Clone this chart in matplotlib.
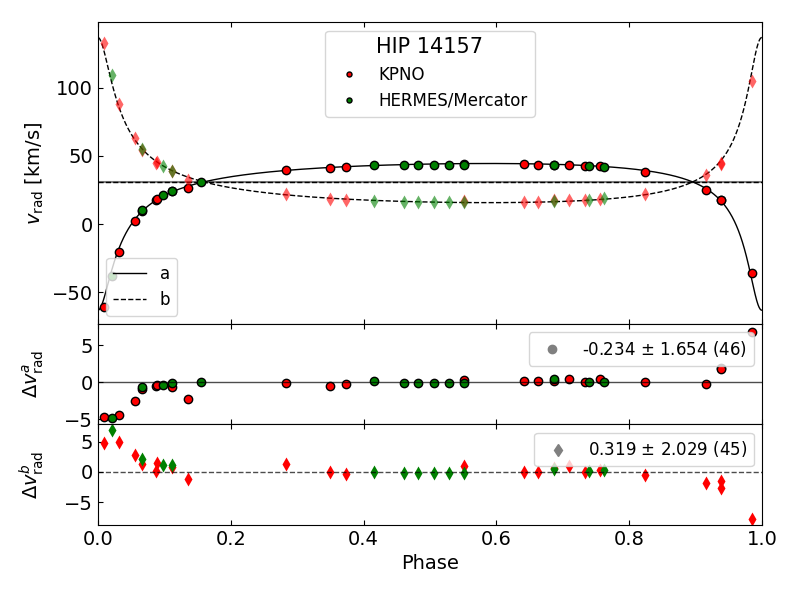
import numpy as np
import matplotlib
matplotlib.use('Agg')
import matplotlib.pyplot as plt

# orbital solution
gamma = 31.0
K1 = 53.75
K2 = 60.5
ecc = 0.7546
omega = 173.0   # deg, component a
T0 = 0.998      # phase of periastron

# observations: phase, instrument (K = KPNO, H = HERMES/Mercator)
phase = [0.009, 0.0206, 0.032, 0.055, 0.067, 0.067, 0.087, 0.089, 0.098, 0.112,
         0.112, 0.1355, 0.1546, 0.2836, 0.350, 0.373, 0.416, 0.461, 0.4825, 0.506,
         0.528, 0.551, 0.551, 0.642, 0.663, 0.687, 0.687, 0.710, 0.734, 0.739,
         0.756, 0.762, 0.824, 0.9157, 0.938, 0.938, 0.9845]
inst = ['K', 'H', 'K', 'K', 'H', 'K', 'K', 'K', 'H', 'K',
        'H', 'K', 'H', 'K', 'K', 'K', 'H', 'H', 'H', 'H',
        'H', 'K', 'H', 'K', 'K', 'K', 'H', 'K', 'K', 'H',
        'K', 'H', 'K', 'K', 'K', 'K', 'K']
rv_a = [-60.8, -38.2, -20.3, 2.0, 10.3, 10.0, 17.8, 18.4, 21.3, 24.0,
        24.4, 26.2, 30.9, 39.5, 41.2, 41.9, 43.1, 43.4, 43.4, 43.6,
        43.6, 43.9, 43.6, 43.8, 43.6, 43.4, 43.6, 43.4, 42.7, 42.4,
        42.3, 41.9, 38.5, 24.8, 17.6, 17.5, -36.0]
rv_b = [132.6, 109.6, 88.0, 63.0, 55.4, 54.5, 44.5, 45.5, 42.6, 39.0,
        38.7, 32.6, np.nan, 21.8, 18.4, 17.6, 16.9, 16.2, 16.2, 16.0,
        16.0, 17.0, 16.0, 16.4, 16.5, 17.4, 17.1, 18.1, 17.9, 18.1,
        18.6, 18.9, 21.8, 35.8, 45.1, 43.9, 105.1]
dv_a = [-4.74, -4.78, -4.43, -2.52, -0.70, -0.87, -0.57, -0.39, -0.35, -0.61,
        -0.18, -2.26, 0.04, -0.13, -0.48, -0.26, 0.21, -0.13, -0.13, -0.09,
        -0.05, 0.30, -0.09, 0.21, 0.17, 0.13, 0.39, 0.39, 0.04, 0.0,
        0.47, 0.08, 0.04, -0.31, 1.86, 1.75, 6.77]
dv_b = [4.72, 6.94, 5.0, 2.72, 2.17, 1.28, 0.17, 1.55, 1.1, 0.8,
        1.1, -1.12, np.nan, 1.28, -0.06, -0.28, 0.0, -0.17, -0.17, -0.11,
        -0.11, 1.05, -0.11, 0.05, 0.0, 0.67, 0.44, 1.0, 0.05, 0.17,
        0.28, 0.33, -0.56, -1.84, -1.5, -2.67, -7.78]

label_a = '-0.234 $\\pm$ 1.654 (46)'
label_b = '0.319 $\\pm$ 2.029 (45)'
colors = {'K': 'red', 'H': 'green'}


def kepler_rv(ph, K, w):
    M = 2 * np.pi * (ph - T0)
    E = M.copy()
    for i in range(60):
        E = E - (E - ecc * np.sin(E) - M) / (1 - ecc * np.cos(E))
    nu = 2 * np.arctan(np.sqrt((1 + ecc) / (1 - ecc)) * np.tan(E / 2))
    w = np.radians(w)
    return gamma + K * (np.cos(nu + w) + ecc * np.cos(w))


phase = np.array(phase)
inst = np.array(inst)
rv_a = np.array(rv_a)
rv_b = np.array(rv_b)
dv_a = np.array(dv_a)
dv_b = np.array(dv_b)

ph_model = np.linspace(0, 1, 2000)
model_a = kepler_rv(ph_model, K1, omega)
model_b = kepler_rv(ph_model, K2, omega + 180)

fig, (ax1, ax2, ax3) = plt.subplots(3, 1, sharex=True, figsize=(8, 6), dpi=100,
                                    gridspec_kw={'height_ratios': [3, 1, 1], 'hspace': 0})
fig.subplots_adjust(left=0.1225, right=0.9525, top=0.963, bottom=0.125)

ax1.axhline(gamma, color='k', lw=1.5, alpha=0.5)
ax1.axhline(gamma, color='k', lw=1, ls='--')
la, = ax1.plot(ph_model, model_a, 'k-', lw=1)
lb, = ax1.plot(ph_model, model_b, 'k--', lw=1)

handles = []
for key, name in [('K', 'KPNO'), ('H', 'HERMES/Mercator')]:
    m = inst == key
    h, = ax1.plot(phase[m], rv_a[m], 'o', color=colors[key], mec='k', ms=6, label=name)
    ax1.plot(phase[m], rv_b[m], 'd', color=colors[key], mec='none', ms=7, alpha=0.6)
    handles.append(h)
    ax2.plot(phase[m], dv_a[m], 'o', color=colors[key], mec='k', ms=6)
    ax3.plot(phase[m], dv_b[m], 'd', color=colors[key], mec='none', ms=7)

leg1 = ax1.legend(handles=handles, loc='upper center', title='HIP 14157',
                  fontsize=12, title_fontsize=15, markerscale=0.6)
ax1.add_artist(leg1)
ax1.legend([la, lb], ['a', 'b'], loc='lower left', fontsize=12)

ax2.axhline(0, color='k', lw=1, alpha=0.7)
ax3.axhline(0, color='k', lw=1, ls='--', alpha=0.7)
pa, = ax2.plot([], [], 'o', color='grey', ms=6)
pb, = ax3.plot([], [], 'd', color='grey', ms=6)
ax2.legend([pa], [label_a], loc='upper right', fontsize=12)
ax3.legend([pb], [label_b], loc='upper right', fontsize=12)

ax1.set_xlim(0, 1)
ax1.set_ylim(-73, 148)
ax2.set_ylim(-5.7, 7.85)
ax3.set_ylim(-8.7, 7.8)
ax1.set_yticks([-50, 0, 50, 100])
ax2.set_yticks([-5, 0, 5])
ax3.set_yticks([-5, 0, 5])

ax1.set_ylabel('$v_\\mathrm{rad}$ [km/s]', fontsize=14)
ax2.set_ylabel('$\\Delta v^a_\\mathrm{rad}$', fontsize=14)
ax3.set_ylabel('$\\Delta v^b_\\mathrm{rad}$', fontsize=14)
ax3.set_xlabel('Phase', fontsize=14)

for ax in (ax1, ax2, ax3):
    ax.tick_params(direction='in', top=True, labelsize=14)

fig.align_ylabels([ax1, ax2, ax3])
plt.savefig('out.png')
